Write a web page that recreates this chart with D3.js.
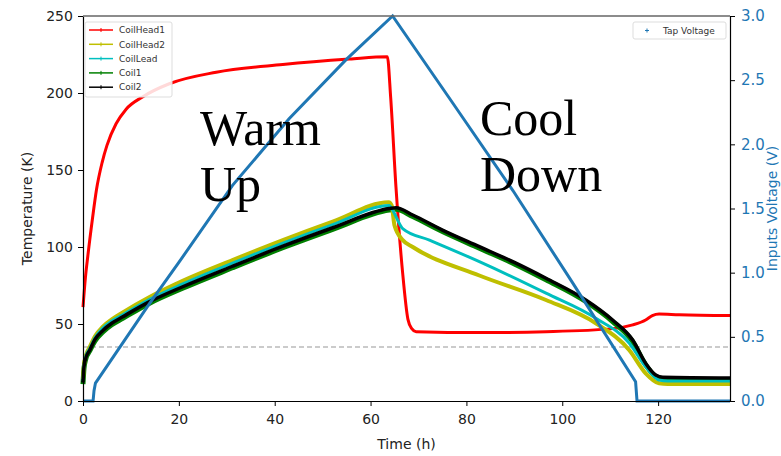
<html>
    <head>
        <title>Warm Up / Cool Down</title>
        <style>
            body { margin: 0; background: #fff; }
            .tick text { font-family: "DejaVu Sans", sans-serif; font-size: 14px; }
            .label { font-family: "DejaVu Sans", sans-serif; font-size: 14px; }
            .legend text { font-family: "DejaVu Sans", sans-serif; font-size: 9px; fill: #333; }
            .note { font-family: "Liberation Serif", serif; font-size: 50px; fill: #000; }
        </style>
    </head>
    <body>
        <svg></svg>

        <script src="https://d3js.org/d3.v7.min.js"></script>
        <script>
            // series values, [time (h), value]
            const coilHead1 = [[0,61],[0.5,80],[1,94],[2,119],[2.8,137],[4,155],[5,166],[6.9,180],[9,189.5],[12.5,197.6],[18,206],[27.8,213.5],[41.7,218.5],[55.6,222],[63.5,223.5],
                [64.2,197],[65.3,139],[66.7,83],[67.8,53],[68.6,47],[69.5,45],[82.7,44.4],[96.6,45],[110.5,47],[114.7,49.4],[117.4,52.6],[118.8,55.5],[120.2,56.5],[124.4,56],[135,55.5]];
            const coilHead2 = [[0,14],[0.2,23],[0.6,29.5],[1.4,35],[2.5,42],[4.2,48.5],[6,53],[8.3,57.5],[13.9,67.5],[20.8,78],[31.2,91.5],[41.7,104.5],[52.1,116.5],[63.8,129],
                [64.4,127],[65,114],[66.7,104.5],[68.8,100],[82.7,81.5],[96.6,65.6],[107,50.5],[114,33],[117.4,18],[120.2,11.5],[122,11],[135,11]];
            const coilLead = [[0,13],[0.2,22.5],[0.6,29],[1.4,34],[2.5,41],[4.2,47.5],[6,52],[8.3,56],[13.9,66],[20.8,76],[31.2,89.5],[41.7,102.5],[52.1,114.5],[63.9,127],
                [64.6,124],[66.7,112],[72.3,104.5],[82.7,90.5],[96.6,70],[107,53.7],[114,37.5],[117.4,22.3],[120.2,13.6],[122,13],[135,13]];
            const coil1 = [[0,11],[0.2,21],[0.6,27.5],[1.4,32.5],[2.5,39],[4.2,45],[6,49.5],[8.3,53.7],[13.9,63.5],[20.8,73.2],[31.2,86.5],[41.7,99.5],[52.1,111.5],[63.9,124],
                [65.3,124.5],[68.8,119.8],[75,110],[82.7,99.2],[90,89],[96.6,78.7],[104.9,64.6],[110.5,51.6],[114.7,38.6],[117.4,23.5],[119.5,16],[121,14.5],[135,14]];
            const coil2 = [[0,12],[0.2,22],[0.6,28],[1.4,33],[2.5,40],[4.2,46],[6,50.5],[8.3,54.7],[13.9,64.5],[20.8,74.2],[31.2,87.5],[41.7,100.5],[52.1,112.5],[63.9,125],
                [65.3,125.5],[68.8,120.8],[75,111],[82.7,100.2],[90,90],[96.6,79.7],[104.9,65.6],[110.5,52.6],[114.7,39.6],[117.4,24.5],[119.5,16.9],[121,15.5],[135,15]];
            const tapVoltage = [[0,0],[2.1,0],[2.3,0.08],[2.6,0.14],[13.9,0.76],[20,1.08],[31.2,1.68],[43,2.2],[54.9,2.66],[64.6,3.0],
                [77,2.33],[89.7,1.64],[102,0.93],[115.3,0.15],[115.6,0],[135,0]];
            const threshold = 35;

            const seriesNames = ["CoilHead1", "CoilHead2", "CoilLead", "Coil1", "Coil2"];
            const seriesColors = ["#ff0000", "#bfbf00", "#00bfbf", "#008000", "#000000"];
            const seriesWidths = [3, 4, 3, 5, 3.5];

            const xTicks = [0, 20, 40, 60, 80, 100, 120];
            const yTicks = [0, 50, 100, 150, 200, 250];
            const vTicks = [0, 0.5, 1.0, 1.5, 2.0, 2.5, 3.0];

            const width = 781, height = 456;
            const margin = { top: 16, right: 51, bottom: 55, left: 83 };
            const voltColor = "#1f77b4";

            const svg = d3.select("svg")
                .attr("width", width)
                .attr("height", height);

            const x = d3.scaleLinear().domain([0, 135]).range([margin.left, width - margin.right]);
            const y = d3.scaleLinear().domain([0, 250]).range([height - margin.bottom, margin.top]);
            const yv = d3.scaleLinear().domain([0, 3]).range([height - margin.bottom, margin.top]);

            const tempLine = d3.line().curve(d3.curveMonotoneX).x(d => x(d[0])).y(d => y(d[1]));
            const voltLine = d3.line().x(d => x(d[0])).y(d => yv(d[1]));

            // dashed threshold
            svg.append("line")
                .attr("x1", x(0)).attr("x2", x(135))
                .attr("y1", y(threshold)).attr("y2", y(threshold))
                .attr("stroke", "#bbbbbb")
                .attr("stroke-width", 1.5)
                .attr("stroke-dasharray", "5,3");

            // temperature lines (green drawn under black)
            const allSeries = [coilHead1, coilHead2, coilLead, coil1, coil2];
            const drawOrder = [0, 3, 1, 2, 4];
            drawOrder.forEach(function(i) {
                svg.append("path")
                    .datum(allSeries[i])
                    .attr("fill", "none")
                    .attr("stroke", seriesColors[i])
                    .attr("stroke-width", seriesWidths[i])
                    .attr("stroke-linejoin", "round")
                    .attr("d", tempLine);
            });

            // voltage line
            svg.append("path")
                .datum(tapVoltage)
                .attr("fill", "none")
                .attr("stroke", voltColor)
                .attr("stroke-width", 3)
                .attr("d", voltLine);

            // annotations
            svg.append("text").attr("class", "note").attr("x", 200).attr("y", 145).text("Warm");
            svg.append("text").attr("class", "note").attr("x", 200).attr("y", 201).text("Up");
            svg.append("text").attr("class", "note").attr("x", 480).attr("y", 135).text("Cool");
            svg.append("text").attr("class", "note").attr("x", 480).attr("y", 191).text("Down");

            // axes
            const xAxis = svg.append("g")
                .attr("transform", "translate(0," + (height - margin.bottom) + ")")
                .call(d3.axisBottom(x).tickValues(xTicks).tickSize(5).tickSizeOuter(0));
            const yAxis = svg.append("g")
                .attr("transform", "translate(" + margin.left + ",0)")
                .call(d3.axisLeft(y).tickValues(yTicks).tickSize(5).tickSizeOuter(0));
            const vAxis = svg.append("g")
                .attr("transform", "translate(" + (width - margin.right) + ",0)")
                .call(d3.axisRight(yv).tickValues(vTicks).tickFormat(d3.format(".1f")).tickSize(5).tickSizeOuter(0));
            xAxis.selectAll("text").attr("fill", "#222").attr("dy", "1.05em");
            yAxis.selectAll("text").attr("fill", "#222").attr("dx", "-0.15em");
            vAxis.selectAll("text").attr("fill", voltColor).attr("dx", "0.2em").style("font-size", "15px");
            [xAxis, yAxis, vAxis].forEach(function(a) {
                a.select(".domain").attr("stroke", "#000").attr("stroke-width", 1.2);
            });

            // top spine
            svg.append("line")
                .attr("x1", margin.left).attr("x2", width - margin.right)
                .attr("y1", margin.top).attr("y2", margin.top)
                .attr("stroke", "#666").attr("stroke-width", 1.5);

            // axis labels
            svg.append("text").attr("class", "label")
                .attr("x", (margin.left + width - margin.right) / 2)
                .attr("y", 449)
                .attr("text-anchor", "middle")
                .attr("fill", "#222")
                .text("Time (h)");
            svg.append("text").attr("class", "label")
                .attr("transform", "translate(32," + ((margin.top + height - margin.bottom) / 2) + ") rotate(-90)")
                .attr("text-anchor", "middle")
                .attr("fill", "#222")
                .text("Temperature (K)");
            svg.append("text").attr("class", "label")
                .attr("transform", "translate(777," + ((margin.top + height - margin.bottom) / 2) + ") rotate(-90)")
                .attr("text-anchor", "middle")
                .attr("fill", voltColor)
                .style("font-size", "14px")
                .text("Inputs Voltage (V)");

            // legend, temperatures
            const legend = svg.append("g").attr("class", "legend");
            legend.append("rect")
                .attr("x", 85).attr("y", 22).attr("width", 87).attr("height", 75)
                .attr("rx", 2)
                .attr("fill", "#fff").attr("fill-opacity", 0.85)
                .attr("stroke", "#dddddd");
            seriesNames.forEach(function(name, i) {
                const ly = 30 + i * 14.3;
                legend.append("line")
                    .attr("x1", 89).attr("x2", 113).attr("y1", ly).attr("y2", ly)
                    .attr("stroke", seriesColors[i]).attr("stroke-width", 1.5);
                legend.append("line")
                    .attr("x1", 101).attr("x2", 101).attr("y1", ly - 2).attr("y2", ly + 2)
                    .attr("stroke", seriesColors[i]).attr("stroke-width", 1);
                legend.append("text")
                    .attr("x", 119).attr("y", ly + 3.2)
                    .text(name);
            });

            // legend, voltage
            const legend2 = svg.append("g").attr("class", "legend");
            legend2.append("rect")
                .attr("x", 633).attr("y", 22).attr("width", 93).attr("height", 17)
                .attr("rx", 2)
                .attr("fill", "#fff").attr("fill-opacity", 0.85)
                .attr("stroke", "#dddddd");
            legend2.append("path")
                .attr("d", "M645,30.5h4M647,28.5v4")
                .attr("stroke", voltColor).attr("stroke-width", 1);
            legend2.append("text")
                .attr("x", 663).attr("y", 33.5)
                .text("Tap Voltage");
        </script>
    </body>
</html>
